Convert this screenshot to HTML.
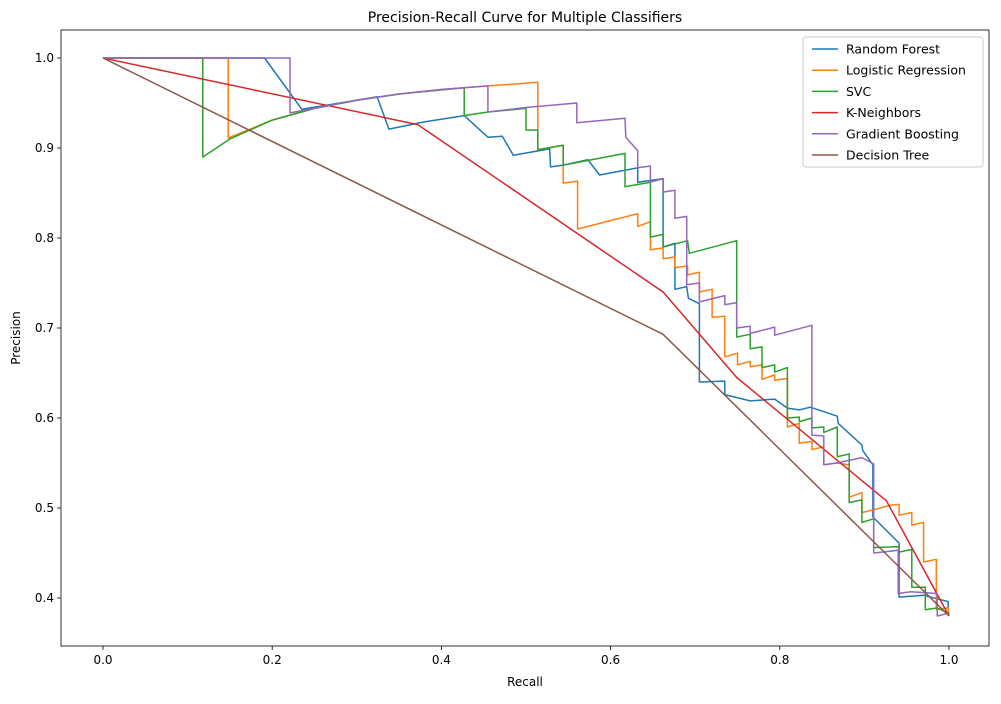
<!DOCTYPE html>
<html><head><meta charset="utf-8"><style>
body{margin:0;background:#fff;font-family:"Liberation Sans","DejaVu Sans",sans-serif}
svg text{font-family:"DejaVu Sans","Liberation Sans",sans-serif}
</style></head><body>
<svg id="chart" width="1001" height="699" xmlns="http://www.w3.org/2000/svg"></svg>
<script>
const xTicks=[0,0.2,0.4,0.6,0.8,1.0];
const yTicks=[0.4,0.5,0.6,0.7,0.8,0.9,1.0];
const seriesNames=["Random Forest","Logistic Regression","SVC","K-Neighbors","Gradient Boosting","Decision Tree"];
const colors=["#1f77b4","#ff7f0e","#2ca02c","#d62728","#9467bd","#8c564b"];
const rfR=[0,0.191,0.235,0.28,0.324,0.338,0.38,0.427,0.455,0.472,0.485,0.528,0.529,0.544,0.573,0.587,0.632,0.632,0.662,0.662,0.676,0.676,0.69,0.692,0.705,0.705,0.735,0.735,0.765,0.794,0.809,0.823,0.836,0.868,0.869,0.897,0.898,0.91,0.91,0.941,0.941,0.97,0.999,0.999];
const rfP=[1,1,0.943,0.95,0.957,0.921,0.929,0.936,0.912,0.913,0.892,0.899,0.879,0.881,0.887,0.87,0.878,0.862,0.866,0.79,0.794,0.743,0.746,0.733,0.727,0.64,0.641,0.626,0.619,0.621,0.611,0.609,0.612,0.602,0.594,0.57,0.564,0.548,0.49,0.461,0.401,0.403,0.396,0.387];
const lrR=[0,0.148,0.148,0.2,0.25,0.3,0.35,0.4,0.455,0.514,0.514,0.544,0.544,0.561,0.561,0.632,0.632,0.647,0.647,0.662,0.662,0.676,0.676,0.691,0.691,0.705,0.705,0.72,0.72,0.735,0.735,0.75,0.75,0.765,0.765,0.779,0.779,0.794,0.794,0.809,0.809,0.823,0.823,0.838,0.838,0.852,0.852,0.867,0.882,0.882,0.897,0.897,0.911,0.93,0.941,0.941,0.956,0.956,0.97,0.97,0.985,0.985,0.999,1];
const lrP=[1,1,0.911,0.931,0.944,0.953,0.96,0.965,0.969,0.973,0.898,0.903,0.861,0.863,0.81,0.827,0.813,0.818,0.787,0.789,0.777,0.779,0.767,0.769,0.759,0.762,0.74,0.743,0.712,0.713,0.668,0.672,0.659,0.663,0.657,0.659,0.643,0.648,0.642,0.644,0.59,0.594,0.572,0.574,0.565,0.568,0.548,0.55,0.548,0.512,0.517,0.495,0.498,0.503,0.504,0.492,0.495,0.481,0.484,0.44,0.443,0.387,0.389,0.38];
const svcR=[0,0.118,0.118,0.15,0.2,0.25,0.3,0.35,0.427,0.427,0.455,0.5,0.5,0.514,0.514,0.544,0.544,0.617,0.617,0.647,0.647,0.662,0.662,0.691,0.693,0.749,0.749,0.765,0.765,0.779,0.779,0.794,0.794,0.809,0.809,0.823,0.823,0.838,0.838,0.852,0.852,0.868,0.868,0.882,0.882,0.897,0.897,0.911,0.911,0.941,0.941,0.956,0.956,0.972,0.972,0.986,1];
const svcP=[1,1,0.89,0.91,0.931,0.944,0.953,0.96,0.967,0.936,0.94,0.944,0.92,0.92,0.898,0.903,0.881,0.894,0.857,0.862,0.801,0.804,0.79,0.797,0.783,0.797,0.69,0.693,0.677,0.679,0.656,0.659,0.651,0.656,0.6,0.601,0.596,0.6,0.589,0.59,0.584,0.59,0.557,0.56,0.506,0.509,0.484,0.488,0.456,0.457,0.451,0.454,0.412,0.412,0.387,0.389,0.383];
const knR=[0,0.372,0.662,0.749,0.926,1.0];
const knP=[1,0.926,0.74,0.645,0.508,0.38];
const gbR=[0,0.221,0.221,0.25,0.3,0.35,0.4,0.455,0.455,0.5,0.56,0.56,0.617,0.618,0.632,0.632,0.647,0.647,0.662,0.662,0.676,0.676,0.69,0.69,0.705,0.705,0.735,0.735,0.749,0.749,0.765,0.765,0.794,0.794,0.838,0.838,0.852,0.852,0.867,0.897,0.911,0.911,0.94,0.94,0.955,0.986,0.986,0.999];
const gbP=[1,1,0.939,0.944,0.953,0.96,0.965,0.969,0.94,0.945,0.95,0.928,0.933,0.912,0.897,0.878,0.88,0.862,0.866,0.851,0.853,0.822,0.824,0.748,0.75,0.729,0.736,0.726,0.728,0.7,0.702,0.694,0.701,0.692,0.703,0.581,0.58,0.548,0.55,0.556,0.549,0.45,0.453,0.405,0.407,0.405,0.38,0.383];
const dtR=[0,0.662,1.0];
const dtP=[1,0.693,0.38];
const allR=[rfR,lrR,svcR,knR,gbR,dtR];
const allP=[rfP,lrP,svcP,knP,gbP,dtP];

const L=61,R=989,T=30,B=646;
const X0=103,XS=846,Y1=58,YS=900;
const sx=v=>X0+v*XS;
const sy=v=>Y1+(1-v)*YS;
const svg=document.getElementById('chart');
const NS='http://www.w3.org/2000/svg';
function mk(tag,attrs,parent){const e=document.createElementNS(NS,tag);for(const k in attrs)e.setAttribute(k,attrs[k]);(parent||svg).appendChild(e);return e;}

const title=mk('text',{x:525,y:22,'text-anchor':'middle','font-size':14,fill:'#000'});
title.textContent='Precision-Recall Curve for Multiple Classifiers';



const xg=mk('g',{});


xTicks.forEach(t=>{
  mk('line',{x1:sx(t),x2:sx(t),y1:B,y2:B+4,stroke:'#000','stroke-width':0.8},xg);
  const tx=mk('text',{x:sx(t),y:B+18,'text-anchor':'middle','font-size':12},xg);
  tx.textContent=t.toFixed(1);
  
  
});
const yg=mk('g',{});


yTicks.forEach(t=>{
  mk('line',{x1:L-4,x2:L,y1:sy(t),y2:sy(t),stroke:'#000','stroke-width':0.8},yg);
  const tx=mk('text',{x:L-7,y:sy(t)+4,'text-anchor':'end','font-size':12},yg);
  tx.textContent=t.toFixed(1);
  
  
});
const xl=mk('text',{x:525,y:686,'text-anchor':'middle','font-size':12});
xl.textContent='Recall';


const yl=mk('text',{x:20,y:338,'text-anchor':'middle','font-size':12,transform:'rotate(-90 20 338)'});
yl.textContent='Precision';



const lines=mk('g',{});


allR.forEach((rs,i)=>{
  const pts=rs.map((r,j)=>sx(r).toFixed(1)+','+sy(allP[i][j]).toFixed(1)).join(' ');
  const pl=mk('polyline',{points:pts,fill:'none',stroke:colors[i],'stroke-width':1.5,'stroke-linejoin':'round'},lines);
  
  
});
const frame=mk('rect',{x:L,y:T,width:R-L,height:B-T,fill:'none',stroke:'#000','stroke-width':0.8});



const lg=mk('g',{});


mk('rect',{x:803,y:37,width:180,height:130,rx:3,fill:'#fff',stroke:'#ccc','stroke-width':1,'fill-opacity':0.8},lg);
seriesNames.forEach((n,i)=>{
  const y=49+i*21.2;
  const e=mk('g',{},lg);
  
  
  mk('line',{x1:812,x2:838,y1:y,y2:y,stroke:colors[i],'stroke-width':1.5},e);
  const t=mk('text',{x:846,y:y+4.5,'font-size':12.5},e);
  t.textContent=n;
});
</script>
</body></html>
